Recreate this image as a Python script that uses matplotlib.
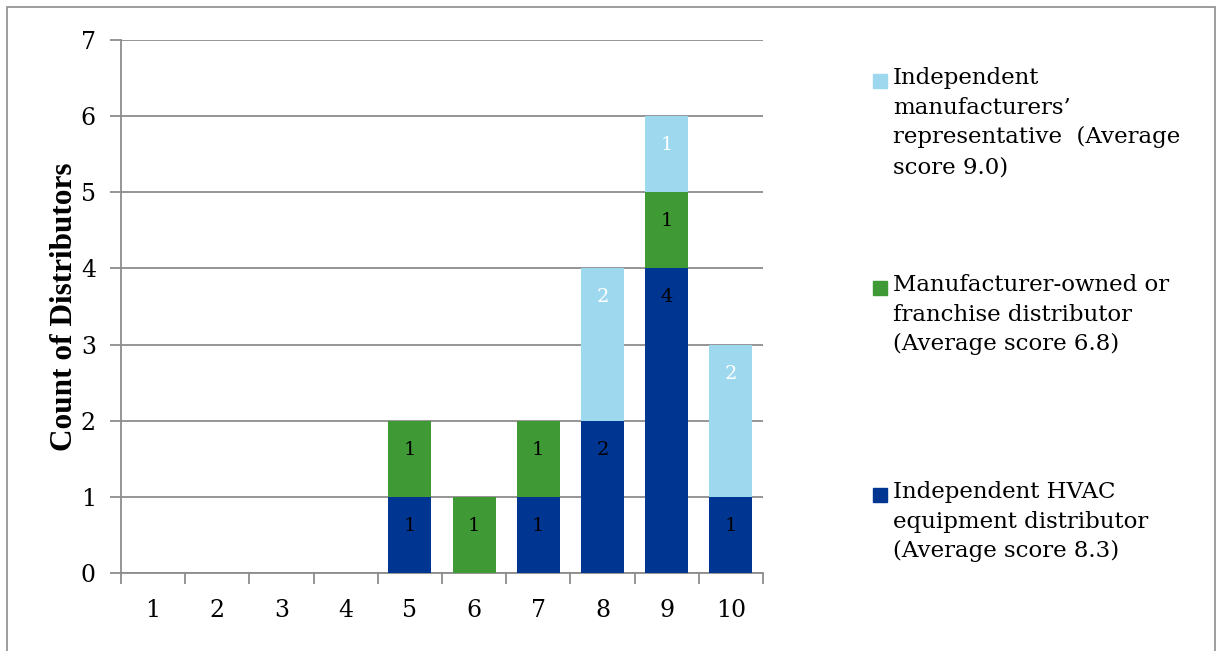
import matplotlib.pyplot as plt
import numpy as np
from matplotlib.patches import Rectangle

# Scores and counts per distributor type
scores = ["1", "2", "3", "4", "5", "6", "7", "8", "9", "10"]
hvac = [0, 0, 0, 0, 1, 0, 1, 2, 4, 1]
franchise = [0, 0, 0, 0, 1, 1, 1, 0, 1, 0]
reps = [0, 0, 0, 0, 0, 0, 0, 2, 1, 2]

labels = [
    "Independent HVAC\nequipment distributor\n(Average score 8.3)",
    "Manufacturer-owned or\nfranchise distributor\n(Average score 6.8)",
    "Independent\nmanufacturers\u2019\nrepresentative  (Average\nscore 9.0)",
]
colors = ["#003591", "#3f9a35", "#9dd8ef"]
text_colors = ["black", "black", "white"]

plt.rcParams['font.family'] = ['DejaVu Serif']

W, H = 1220, 651
fig = plt.figure(figsize=(W / 100, H / 100), dpi=100)
ax = fig.add_axes([121 / W, 1 - 573 / H, (763 - 121) / W, (573 - 40) / H])

# outer frame
fig.patches.append(Rectangle((7 / W, -0.05), 1208 / W, 1.05 - 7 / H,
                             transform=fig.transFigure, fill=False,
                             edgecolor="#8c8c8c", linewidth=1.2))

x = np.arange(len(scores))
bottom = np.zeros(len(scores))
for vals, col, tcol, lab in zip([hvac, franchise, reps], colors, text_colors, labels):
    vals = np.array(vals)
    ax.bar(x, vals, width=0.67, bottom=bottom, color=col, label=lab, zorder=3)
    # count label sits just inside the top of each segment
    for xi, v, b in zip(x, vals, bottom):
        if v > 0:
            ax.text(xi, b + v - 0.38, str(v), ha="center", va="center",
                    color=tcol, fontsize=14, zorder=4)
    bottom = bottom + vals

ax.set_xlim(-0.5, len(scores) - 0.5)
ax.set_ylim(0, 7)
ax.set_yticks(range(8))
ax.set_yticklabels([str(i) for i in range(8)], fontsize=17)
ax.yaxis.grid(True, color="#8c8c8c", linewidth=1.3, zorder=0)
ax.set_axisbelow(True)

ax.set_xticks(x)
ax.set_xticklabels(scores, fontsize=17)
ax.set_xticks(np.arange(-0.5, len(scores)), minor=True)
ax.tick_params(axis="x", which="major", length=0, pad=19)
ax.tick_params(axis="x", which="minor", length=8, width=1.3, color="#8c8c8c")
ax.tick_params(axis="y", length=8, width=1.3, color="#8c8c8c", pad=10)

for side in ["top", "right"]:
    ax.spines[side].set_visible(False)
for side in ["left", "bottom"]:
    ax.spines[side].set_color("#8c8c8c")
    ax.spines[side].set_linewidth(1.3)

ax.set_ylabel("Count of Distributors", fontsize=22.5, fontweight="bold",
              family="Liberation Serif")
ax.yaxis.set_label_coords(-0.066, 0.5)

# legend entries, top to bottom
leg_tops = [67, 274, 481]
for top, lab, col in zip(leg_tops, labels[::-1], colors[::-1]):
    fig.patches.append(Rectangle((873 / W, 1 - (top + 21) / H), 14 / W, 14 / H,
                                 transform=fig.transFigure, color=col))
    fig.text(893 / W, 1 - top / H, lab, ha="left", va="top",
             fontsize=16.5, linespacing=1.45)

fig.savefig("out.png", dpi=100)
